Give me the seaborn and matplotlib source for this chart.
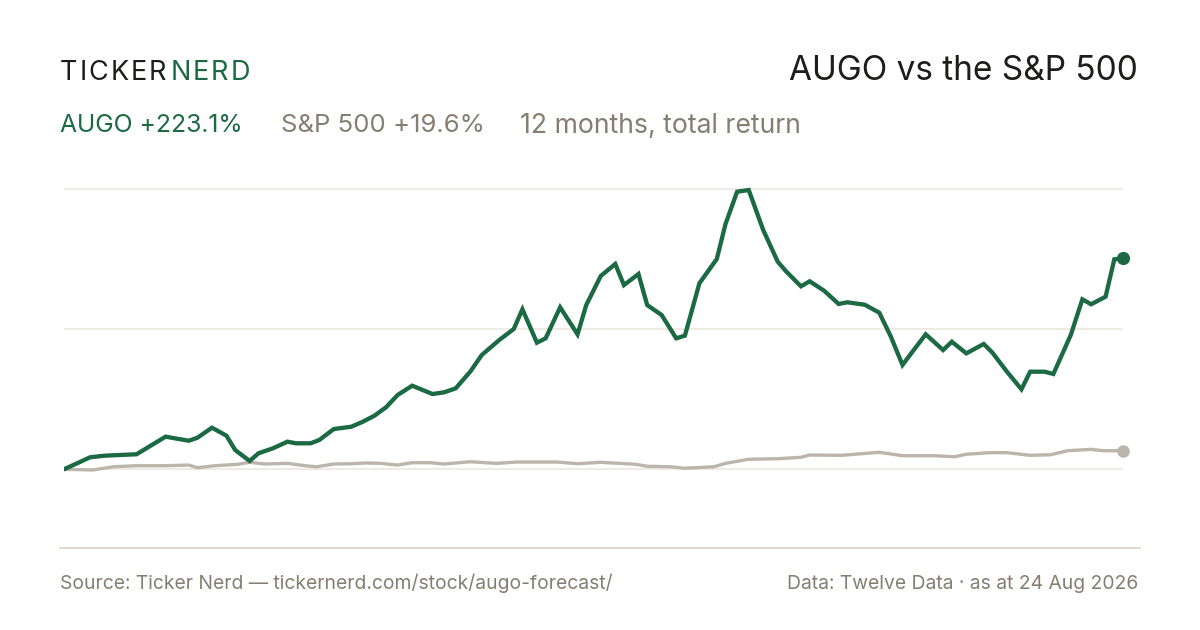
import matplotlib
matplotlib.use("Agg")
import matplotlib.pyplot as plt
import seaborn as sns
import pandas as pd
from matplotlib.lines import Line2D

# ---- data (days since 24 Aug 2025, total return %) ----
augo_days = [0, 9, 14, 19, 25, 35, 43, 46, 51, 56, 59, 64, 67, 72, 77, 80, 85, 88, 93, 99,
             103, 107, 111, 115, 120, 127, 131, 135, 140, 144, 150, 155, 158, 163, 166, 171,
             177, 180, 185, 190, 193, 198, 201, 206, 211, 214, 219, 225, 228, 232, 236, 241,
             246, 249, 254, 257, 262, 267, 270, 276, 281, 285, 289, 292, 297, 303, 306, 311,
             317, 320, 325, 330, 333, 338, 341, 347, 351, 354, 359, 362, 365]
augo_ret = [0, 12.7, 14.4, 15.1, 15.9, 34.5, 30.2, 33.4, 44.0, 35.5, 20.4, 8.8, 16.9, 22.2,
            29.2, 27.5, 27.5, 31.0, 42.6, 45.0, 50.3, 56.7, 65.6, 78.6, 88.4, 79.6, 81.4, 85.6,
            103.2, 120.9, 136.7, 148.3, 169.2, 133.9, 138.5, 171.3, 142.7, 173.7, 204.4, 217.1,
            194.8, 206.5, 173.7, 163.1, 138.5, 141.3, 196.7, 222.4, 259.4, 293.5, 295.3, 253.0,
            219.5, 208.9, 193.5, 198.8, 188.8, 174.8, 176.6, 174.0, 165.6, 140.2, 110.3, 122.6,
            142.7, 126.1, 134.9, 122.6, 132.5, 123.3, 103.2, 84.6, 103.2, 103.2, 100.8, 142.0,
            179.7, 174.5, 182.5, 222.0, 223.1]

spx_days = [0, 10, 17, 25, 35, 43, 46, 52, 60, 64, 69, 77, 83, 87, 93, 99, 104, 109, 115, 120,
            126, 131, 140, 149, 156, 170, 177, 185, 197, 201, 209, 214, 224, 228, 236, 246, 254,
            257, 268, 281, 289, 300, 307, 311, 319, 325, 333, 340, 346, 354, 358, 365]
spx_ret = [0, -0.7, 2.7, 3.8, 3.8, 4.5, 1.7, 3.8, 5.3, 7.4, 5.6, 6.3, 3.8, 2.7, 5.6, 5.9, 6.7,
           6.3, 4.5, 7.0, 7.0, 5.6, 8.0, 6.3, 7.7, 7.7, 5.9, 7.4, 5.3, 3.2, 2.7, 1.1, 2.7, 6.3,
           10.6, 11.2, 12.7, 15.1, 14.8, 18.0, 14.4, 14.4, 13.3, 15.9, 17.6, 17.6, 14.8, 15.4,
           19.7, 21.1, 19.7, 19.6]

grid_vals = [0, 148, 296]

title = "AUGO vs the S&P 500"
augo_label = "AUGO +223.1%"
spx_label = "S&P 500 +19.6%"
period_label = "12 months, total return"
source_label = "Source: Ticker Nerd \u2014 tickernerd.com/stock/augo-forecast/"
data_label = "Data: Twelve Data \u00b7 as at 24 Aug 2026"

GREEN = "#1b6a43"
GREY_LINE = "#bbb5ab"
GREY_TEXT = "#857f71"
DARK = "#1d1d1b"

sns.set_theme(style="white")
plt.rcParams["font.family"] = ["Inter", "DejaVu Sans"]

W, H = 1200, 630
fig = plt.figure(figsize=(12, 6.3), dpi=100)
fig.patch.set_facecolor("white")

ax = fig.add_axes([64 / W, 1 - 520 / H, (1123 - 64) / W, (520 - 180) / H])
df_a = pd.DataFrame({"day": augo_days, "ret": augo_ret})
df_s = pd.DataFrame({"day": spx_days, "ret": spx_ret})

sns.lineplot(data=df_s, x="day", y="ret", ax=ax, color=GREY_LINE, lw=2.4, zorder=2,
             solid_joinstyle="round", solid_capstyle="round")
sns.lineplot(data=df_a, x="day", y="ret", ax=ax, color=GREEN, lw=3.1, zorder=3,
             solid_joinstyle="miter", solid_capstyle="round")
ax.plot([spx_days[-1]], [spx_ret[-1]], "o", color=GREY_LINE, ms=8, zorder=4, clip_on=False)
ax.plot([augo_days[-1]], [augo_ret[-1]], "o", color=GREEN, ms=8.5, zorder=5, clip_on=False)

ax.set_xlim(0, 365)
ax.set_ylim(-53.6, 305.9)
ax.set_yticks(grid_vals)
ax.set_xticks([])
ax.set_yticklabels([])
ax.tick_params(left=False, bottom=False)
ax.grid(axis="y", color="#ebe8e2", lw=1.2)
ax.set_xlabel("")
ax.set_ylabel("")
for s in ax.spines.values():
    s.set_visible(False)
ax.set_facecolor("none")

# bottom rule
fig.add_artist(Line2D([60 / W, 1140 / W], [1 - 548 / H] * 2, color="#ddd8cd", lw=1.4))

def fy(y):
    return 1 - y / H

# logo with letter tracking
renderer = fig.canvas.get_renderer()
x = 60.0
track = 2.0
for word, col in (("TICKER", DARK), ("NERD", GREEN)):
    for ch in word:
        t = fig.text(x / W, fy(79.5), ch, fontsize=19.5, color=col, va="baseline", ha="left")
        bb = t.get_window_extent(renderer)
        x += bb.width + track
    x += 2

fig.text(1138 / W, fy(79.5), title, fontsize=24, color=DARK, ha="right", va="baseline")

fig.text(60 / W, fy(132.5), augo_label, fontsize=17.8, color=GREEN, ha="left", va="baseline")
fig.text(281 / W, fy(132.5), spx_label, fontsize=18.5, color=GREY_TEXT, ha="left", va="baseline")
fig.text(520 / W, fy(132.5), period_label, fontsize=19.2, color=GREY_TEXT, ha="left", va="baseline")

fig.text(60 / W, fy(589), source_label, fontsize=13.9, color=GREY_TEXT, ha="left", va="baseline")
fig.text(1138 / W, fy(589), data_label, fontsize=13.9, color=GREY_TEXT, ha="right", va="baseline")

fig.savefig("out.png", dpi=100, facecolor="white")
